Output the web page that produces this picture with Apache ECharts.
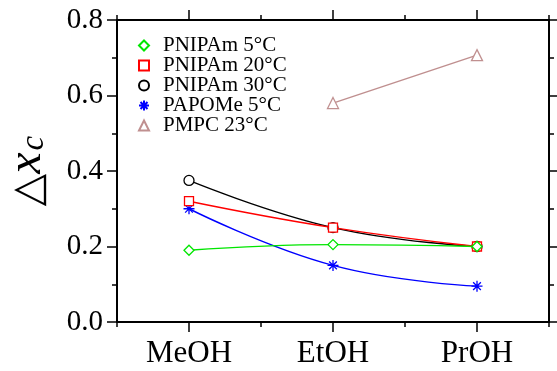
<!DOCTYPE html>
<html>
<head>
<meta charset="utf-8">
<script src="https://cdn.jsdelivr.net/npm/echarts@6/dist/echarts.min.js"></script>
<style>
  html, body { margin: 0; padding: 0; background: #fff; }
  #chart { width: 557px; height: 371px; }
</style>
</head>
<body>
<div id="chart"></div>
<script>
const solvents = ["MeOH", "EtOH", "PrOH"];
const pnipam5 = [0.19, 0.205, 0.2];
const pnipam20 = [0.32, 0.25, 0.2];
const pnipam30 = [0.375, 0.25, 0.2];
const papome5 = [0.3, 0.15, 0.095];
const pmpc23 = [null, 0.58, 0.707];

const serif = "'Liberation Serif', serif";
const asterisk = "path://M5,0L5,10M0,5L10,5M1.5,1.5L8.5,8.5M1.5,8.5L8.5,1.5";

const chart = echarts.init(document.getElementById("chart"));

function series(name, data, color, symbol, size, z) {
  return {
    name: name,
    type: "line",
    data: data,
    smooth: 0.45,
    symbol: symbol,
    symbolSize: size,
    z: z,
    lineStyle: { color: color, width: 1.4 },
    itemStyle: { color: "#fff", borderColor: color, borderWidth: 1.3 },
    emphasis: { disabled: true }
  };
}

const catAxis = (pos, labels, center, len) => ({
  type: "category",
  position: pos,
  data: solvents,
  boundaryGap: true,
  axisLine: { show: true, lineStyle: { color: "#000", width: 2 } },
  axisTick: { show: true, alignWithLabel: center, length: len, lineStyle: { color: "#000", width: 1.5 } },
  axisLabel: { show: labels, color: "#000", fontFamily: serif, fontSize: 31, margin: 16 },
  splitLine: { show: false }
});

const valAxis = (pos, labels) => ({
  type: "value",
  position: pos,
  min: 0,
  max: 0.8,
  interval: 0.2,
  axisLine: { show: true, lineStyle: { color: "#000", width: 2 } },
  axisTick: { show: true, length: 10, lineStyle: { color: "#000", width: 1.5 } },
  minorTick: { show: true, splitNumber: 2, length: 5, lineStyle: { color: "#000", width: 1.5 } },
  axisLabel: {
    show: labels, color: "#000", fontFamily: serif, fontSize: 29, margin: 14,
    formatter: v => v.toFixed(1)
  },
  splitLine: { show: false },
  minorSplitLine: { show: false }
});

const yLeft = valAxis("left", true);
yLeft.name = "{t|\u25B3}{x|x}{c|c}";
yLeft.nameLocation = "middle";
yLeft.nameRotate = 90;
yLeft.nameGap = 66;
yLeft.nameTextStyle = {
  color: "#000",
  rich: {
    t: { fontFamily: "DejaVu Sans", fontSize: 42, color: "#000", verticalAlign: "bottom" },
    x: { fontFamily: serif, fontStyle: "italic", fontSize: 48, color: "#000", verticalAlign: "bottom" },
    c: { fontFamily: serif, fontStyle: "italic", fontSize: 33, color: "#000", verticalAlign: "bottom", padding: [0, 0, 0, 2] }
  }
};

chart.setOption({
  backgroundColor: "#fff",
  animation: false,
  grid: { left: 117, right: 8, top: 20, bottom: 49, outerBoundsMode: "none", containLabel: false },
  legend: {
    orient: "vertical",
    left: 133,
    top: 30,
    itemWidth: 10,
    itemHeight: 10,
    itemGap: -1,
    selectedMode: false,
    textStyle: { fontFamily: serif, fontSize: 21, color: "#000", lineHeight: 20, padding: [0, 0, 0, 9] },
    data: [
      { name: "PNIPAm 5°C", icon: "diamond" },
      { name: "PNIPAm 20°C", icon: "rect" },
      { name: "PNIPAm 30°C", icon: "circle" },
      { name: "PAPOMe 5°C", icon: asterisk },
      { name: "PMPC 23°C", icon: "triangle" }
    ]
  },
  xAxis: [
    catAxis("bottom", true, true, 10),
    catAxis("bottom", false, false, 5),
    catAxis("top", false, true, 10),
    catAxis("top", false, false, 5)
  ],
  yAxis: [yLeft, valAxis("right", false)],
  series: [
    series("PNIPAm 5°C", pnipam5, "#00e600", "diamond", 10, 6),
    series("PNIPAm 20°C", pnipam20, "#ff0000", "rect", 9, 5),
    series("PNIPAm 30°C", pnipam30, "#000000", "circle", 10, 4),
    series("PAPOMe 5°C", papome5, "#0000ff", asterisk, 11, 3),
    series("PMPC 23°C", pmpc23, "#c09090", "triangle", 11, 2)
  ]
});
</script>
</body>
</html>
